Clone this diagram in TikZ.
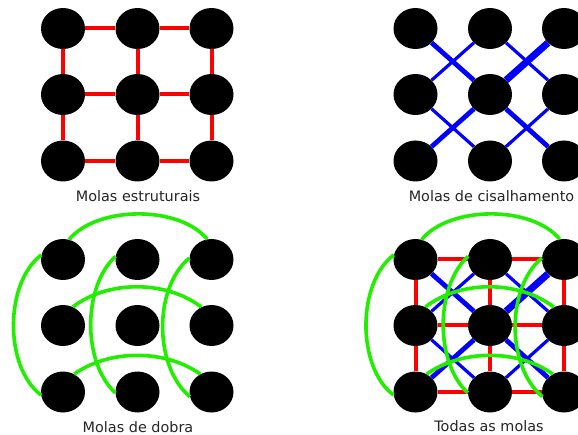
\documentclass[tikz,border=0pt]{standalone}
\usepackage{fontspec}
\setmainfont{DejaVu Sans}
\usetikzlibrary{shapes.geometric}
\definecolor{springgreen}{HTML}{22EE00}
\tikzset{
  mass/.style={ellipse,fill=black,draw=none,inner sep=0pt,minimum width=44pt,minimum height=41pt},
  redspring/.style={draw=red,line width=4pt},
  bluespring/.style={draw=blue,line width=3.2pt},
  bluemid/.style={draw=blue,line width=4.8pt},
  bluewide/.style={draw=blue,line width=7pt},
  greenspring/.style={draw=springgreen,line width=3.6pt},
  caption/.style={inner sep=0pt,font=\fontsize{14.4pt}{17pt}\selectfont,text=black!85}
}
\newcommand{\massgrid}[3]{%
  \foreach \r/\yy in {1/0,2/66,3/132.5}{
    \foreach \c/\xx in {1/0,2/74.5,3/148.5}{
      \node[mass] (#1\r\c) at (#2+\xx,#3+\yy) {};
    }
  }
}
\newcommand{\redsprings}[1]{%
  \draw[redspring] (#111)--(#112) (#112)--(#113) (#121)--(#122) (#122)--(#123) (#131)--(#132) (#132)--(#133)
    (#111)--(#121) (#121)--(#131) (#112)--(#122) (#122)--(#132) (#113)--(#123) (#123)--(#133);
}
\newcommand{\bluesprings}[1]{%
  \draw[bluespring] (#112)--(#121) (#112)--(#123) (#121)--(#132) (#132)--(#123);
  \draw[bluemid] (#111)--(#122) (#122)--(#133) (#122)--(#131);
  \draw[bluewide] (#113)--(#122);
}
\newcommand{\greensprings}[1]{%
  \draw[greenspring] (#111.168) .. controls +(-37,28) and +(-37,-28) .. (#131.188);
  \draw[greenspring] (#111.73) .. controls +(28,-34) and +(-28,-34) .. (#113.102);
  \draw[greenspring] (#112.172) .. controls +(-33,30) and +(-33,-30) .. (#132.182);
  \draw[greenspring] (#113.176) .. controls +(-36,30) and +(-36,-30) .. (#133.192);
  \draw[greenspring] (#121.62) .. controls +(35,-27) and +(-35,-27) .. (#123.119);
  \draw[greenspring] (#131.58) .. controls +(35,-25) and +(-35,-25) .. (#133.122);
}
\begin{document}
\begin{tikzpicture}[x=1pt,y=-1pt]
\clip (0,0) rectangle (578,435);
\fill[white] (0,0) rectangle (578,435);
\massgrid{a}{63}{28.5}
\massgrid{b}{415.5}{28.5}
\massgrid{c}{63}{259.5}
\massgrid{d}{415.5}{259.5}
\redsprings{a}
\bluesprings{b}
\greensprings{c}
\redsprings{d}
\bluesprings{d}
\greensprings{d}
\node[caption] (capa) at (138,196) {Molas estruturais};
\node[caption] (capb) at (491.5,196) {Molas de cisalhamento};
\node[caption] (capc) at (138,427) {Molas de dobra};
\node[caption] (capd) at (489,426) {Todas as molas};
\end{tikzpicture}
\end{document}
